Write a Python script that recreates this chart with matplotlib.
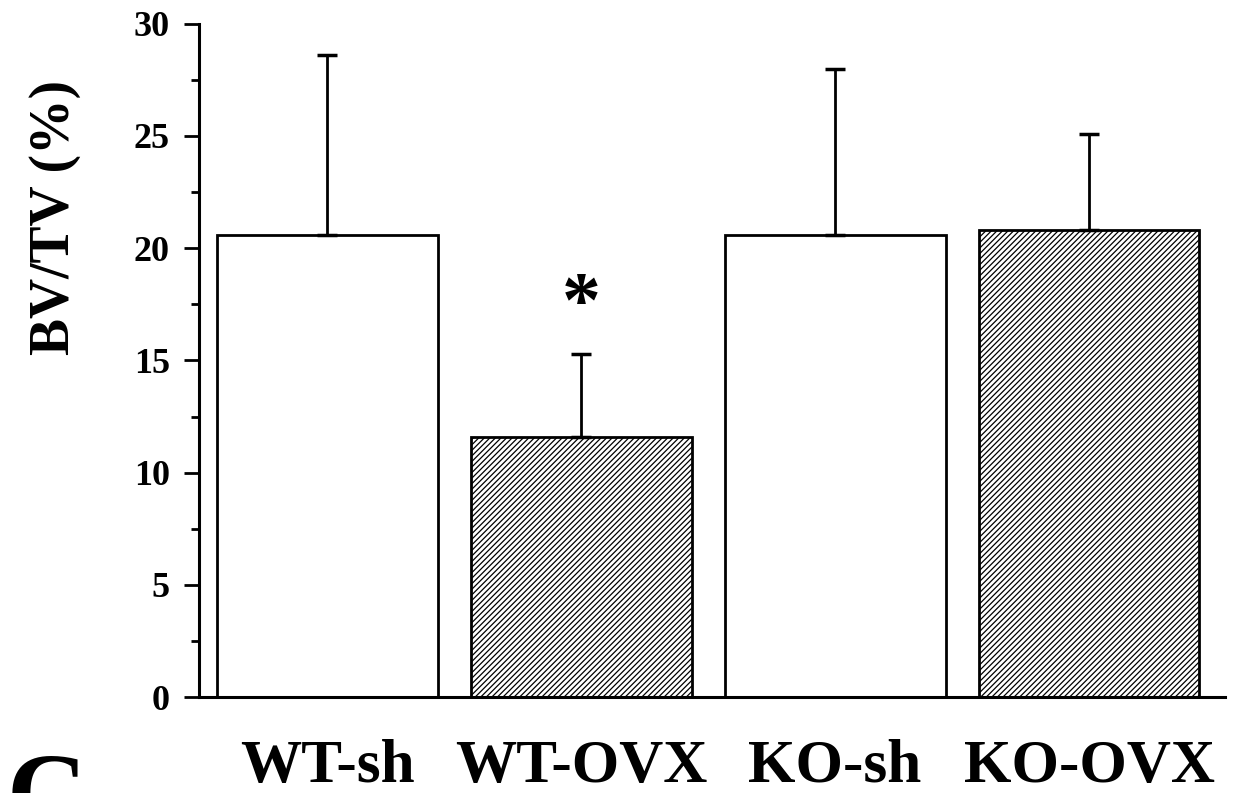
import numpy as np
import matplotlib.pyplot as plt

plt.rcParams['font.family'] = ['Liberation Serif', 'DejaVu Serif']
plt.rcParams['font.weight'] = 'bold'
plt.rcParams['hatch.linewidth'] = 0.9

# data
groups = ['WT-sh', 'WT-OVX', 'KO-sh', 'KO-OVX']
means = [20.6, 11.6, 20.6, 20.8]
sd_up = [8.0, 3.7, 7.4, 4.3]
hatched = [False, True, False, True]
star_y = 17.4

fig = plt.figure(figsize=(12.36, 7.93), dpi=100)
ax = fig.add_axes([0.161, 0.121, 0.830, 0.849])

x = np.arange(len(groups))
for xi, m, h in zip(x, means, hatched):
    ax.bar(xi, m, width=0.87, facecolor='white', edgecolor='black',
           linewidth=2, hatch='//////' if h else None, zorder=2)

ax.errorbar(x, means, yerr=[np.zeros(len(means)), sd_up], fmt='none',
            ecolor='black', elinewidth=2, capsize=7, capthick=2.5, zorder=3)

ax.text(x[1], star_y, '*', ha='center', va='center', fontsize=56,
        fontweight='bold')

ax.set_xlim(-0.505, 3.535)
ax.set_ylim(0, 30)
ax.set_yticks(np.arange(0, 31, 5))
ax.set_yticks(np.arange(0, 30.1, 2.5), minor=True)
ax.tick_params(axis='y', which='major', length=11, width=2, labelsize=26, pad=10)
ax.tick_params(axis='y', which='minor', length=6, width=2)
ax.set_xticks(x)
ax.set_xticklabels(groups, fontsize=44, fontweight='bold')
ax.tick_params(axis='x', length=0, pad=30)
for t in ax.get_yticklabels():
    t.set_fontweight('bold')

ax.spines['top'].set_visible(False)
ax.spines['right'].set_visible(False)
ax.spines['left'].set_linewidth(2.2)
ax.spines['bottom'].set_linewidth(2.2)

ax.set_ylabel('BV/TV (%)', fontsize=40, fontweight='bold')
ax.yaxis.set_label_coords(-0.115, 0.713)

# panel letter, cut off at the bottom edge as in the source figure
fig.text(0.005, -0.075, 'C', fontsize=80, fontweight='bold', ha='left', va='bottom')

fig.savefig('out.png', dpi=100)
